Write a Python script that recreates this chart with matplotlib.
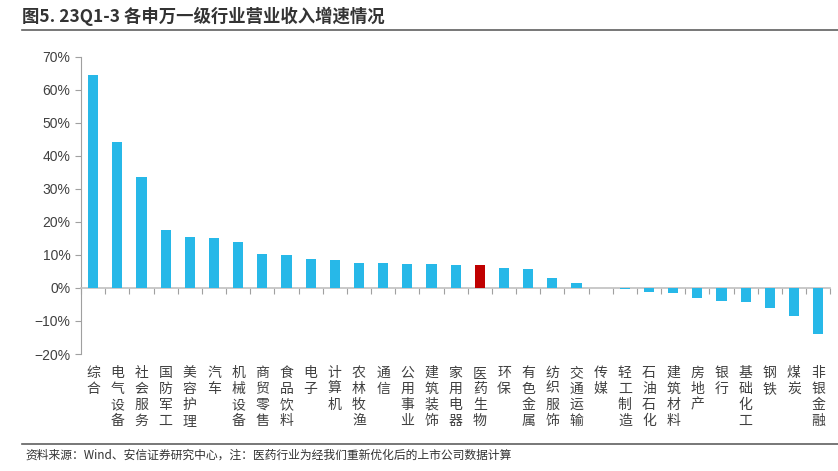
import numpy as np
import matplotlib.pyplot as plt
from matplotlib.lines import Line2D

plt.rcParams['font.family'] = ['Noto Sans CJK SC', 'DejaVu Sans']
plt.rcParams['axes.unicode_minus'] = True

industries = ['综合', '电气设备', '社会服务', '国防军工', '美容护理', '汽车', '机械设备', '商贸零售',
              '食品饮料', '电子', '计算机', '农林牧渔', '通信', '公用事业', '建筑装饰', '家用电器',
              '医药生物', '环保', '有色金属', '纺织服饰', '交通运输', '传媒', '轻工制造', '石油石化',
              '建筑材料', '房地产', '银行', '基础化工', '钢铁', '煤炭', '非银金融']
growth = [64.5, 44.1, 33.5, 17.5, 15.4, 15.0, 13.9, 10.3,
          10.0, 8.8, 8.6, 7.5, 7.5, 7.3, 7.3, 7.1,
          7.0, 5.9, 5.6, 3.0, 1.4, 0.1, -0.3, -1.2,
          -1.6, -3.0, -3.8, -4.4, -6.1, -8.4, -14.0]
highlight = '医药生物'

fig = plt.figure(figsize=(8.38, 4.71), dpi=100)
ax = fig.add_axes([0.0967, 0.2484, 0.894, 0.631])

x = np.arange(len(industries))
colors = ['#C00000' if n == highlight else '#27B8E8' for n in industries]
ax.bar(x, growth, width=0.42, color=colors, zorder=3)

ax.set_xlim(-0.5, len(industries) - 0.5)
ax.set_ylim(-20, 70)
yt = np.arange(-20, 71, 10)
ax.set_yticks(yt)
ax.set_yticklabels([f'{v}%'.replace('-', '\u2212') for v in yt], fontsize=10, color='#404040',
                   family=['Liberation Sans', 'DejaVu Sans'])
ax.tick_params(axis='y', length=4, color='#a0a0a0', width=0.8)

for s in ['top', 'right']:
    ax.spines[s].set_visible(False)
ax.spines['left'].set_color('#a0a0a0')
ax.spines['bottom'].set_position(('data', 0))
ax.spines['bottom'].set_color('#c0c0c0')
ax.spines['bottom'].set_linewidth(1.2)

ax.set_xticks(np.arange(len(industries) + 1) - 0.5)
ax.set_xticklabels([])
ax.tick_params(axis='x', length=4, color='#a0a0a0', width=0.8, direction='out')

for i, name in enumerate(industries):
    ax.text(i, -0.04, '\n'.join(name), transform=ax.get_xaxis_transform(),
            ha='center', va='top', fontsize=10, color='#404040', linespacing=1.18)

fig.text(0.026, 0.965, '图5. 23Q1-3 各申万一级行业营业收入增速情况', fontsize=12.5,
         fontweight='bold', color='#333333', va='center', ha='left')
fig.add_artist(Line2D([0.026, 1.0], [0.936, 0.936], color='#606060', lw=1.2))
fig.add_artist(Line2D([0.026, 1.0], [0.057, 0.057], color='#606060', lw=1.2))
fig.text(0.03, 0.033, '资料来源：Wind、安信证券研究中心，注：医药行业为经我们重新优化后的上市公司数据计算',
         fontsize=8.5, color='#333333', style='italic', va='center', ha='left')

fig.savefig('out.png', dpi=100)
